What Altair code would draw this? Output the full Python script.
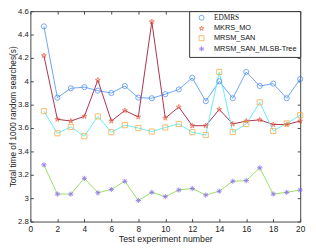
import altair as alt
import pandas as pd

experiments = list(range(1, 21))
methods = ["EDMRS", "MKRS_MO", "MRSM_SAN", "MRSM_SAN_MLSB-Tree"]
edmrs = [4.47, 3.86, 3.94, 3.95, 3.92, 3.90, 3.96, 3.86, 3.855, 3.89,
         3.93, 4.03, 3.83, 4.00, 3.855, 4.08, 3.96, 3.98, 3.855, 4.02]
mkrs_mo = [4.22, 3.675, 3.66, 3.70, 4.01, 3.66, 3.75, 3.695, 4.51, 3.685,
           3.78, 3.62, 3.62, 3.76, 3.635, 3.66, 3.67, 3.63, 3.63, 3.66]
mrsm_san = [3.745, 3.555, 3.61, 3.53, 3.70, 3.565, 3.625, 3.60, 3.57, 3.605,
            3.635, 3.565, 3.54, 4.08, 3.565, 3.635, 3.82, 3.575, 3.64, 3.71]
mlsb_tree = [3.285, 3.035, 3.035, 3.17, 3.046, 3.075, 3.145, 2.98, 3.05, 3.013,
             3.07, 3.083, 3.027, 3.06, 3.145, 3.15, 3.26, 3.035, 3.05, 3.07]

x_ticks = list(range(0, 21, 2))
y_ticks = [2.8, 3.0, 3.2, 3.4, 3.6, 3.8, 4.0, 4.2, 4.4, 4.6]

line_colors = ["#6aa6f5", "#a8304e", "#66eef2", "#98e060"]
marker_colors = ["#3f7fef", "#e8502e", "#f2a22c", "#7a52f2"]
STAR = ("M0,-1L0.2245,-0.309L0.951,-0.309L0.363,0.118L0.588,0.809L0,0.382"
        "L-0.588,0.809L-0.363,0.118L-0.951,-0.309L-0.2245,-0.309Z")
ASTER = "M-1,0L1,0M0,-1L0,1M-0.7,-0.7L0.7,0.7M-0.7,0.7L0.7,-0.7"
shapes = ["circle", STAR, "square", ASTER]

rows = []
for m, vals in zip(methods, [edmrs, mkrs_mo, mrsm_san, mlsb_tree]):
    for e, v in zip(experiments, vals):
        rows.append({"exp": e, "time": v, "method": m})
df = pd.DataFrame(rows)

FONT = "Liberation Sans"
xs = alt.Scale(domain=[0, 20], nice=False, zero=False)
ys = alt.Scale(domain=[2.8, 4.6], nice=False, zero=False)

x_axis = alt.Axis(values=x_ticks, title="Test experiment number", domain=False,
                  grid=False, tickSize=3, offset=-3, labelPadding=3,
                  titlePadding=2, labelFontSize=8.5, titleFontSize=9,
                  titleFontWeight="normal", labelFlush=False)
y_axis = alt.Axis(values=y_ticks, title="Total time of 1000 random searches(s)",
                  domain=False, grid=False, tickSize=3, offset=-3,
                  labelPadding=2, titlePadding=0, labelFontSize=8,
                  titleFontSize=8.5, titleFontWeight="normal", format=".2~f",
                  labelFlush=False)

leg = alt.Legend(title=None, orient="top-right", offset=0, padding=3,
                 fillColor="white", strokeColor="#333333", labelFontSize=7.5,
                 labelFont={"expr": "datum.label == 'EDMRS' ? 'Liberation Serif' : 'Liberation Sans'"},
                 symbolSize=26, symbolStrokeWidth=1, symbolOffset=6,
                 labelOffset=9, rowPadding=1, labelColor="#111111")

X = alt.X("exp:Q", scale=xs, axis=x_axis)
Y = alt.Y("time:Q", scale=ys, axis=y_axis)

line_layers = [
    alt.Chart(df).transform_filter(alt.datum.method == m)
    .mark_line(strokeWidth=1, color=c).encode(x=X, y=Y)
    for m, c in zip(methods, line_colors)
]
points = alt.Chart(df).mark_point(filled=False, strokeWidth=1, size=28).encode(
    x=X, y=Y,
    color=alt.Color("method:N", scale=alt.Scale(domain=methods, range=marker_colors), legend=leg),
    shape=alt.Shape("method:N", scale=alt.Scale(domain=methods, range=shapes), legend=leg),
)
main = alt.layer(*line_layers, points)

frame = alt.Chart(df).mark_point(opacity=0).encode(
    x=alt.X("exp:Q", scale=xs, axis=alt.Axis(orient="top", values=x_ticks, labels=False,
                                             domain=False, grid=False, tickSize=3,
                                             offset=-3, title=None)),
    y=alt.Y("time:Q", scale=ys, axis=alt.Axis(orient="right", values=y_ticks, labels=False,
                                              domain=False, grid=False, tickSize=3,
                                              offset=-3, title=None)),
)

chart = alt.layer(main, frame).resolve_scale(x="independent", y="independent").properties(
    width=277, height=216,
    padding={"left": 23, "top": 0, "right": 8, "bottom": 28},
    autosize=alt.AutoSizeParams(type="none"),
).configure_view(stroke="#444444", strokeWidth=1).configure_axis(
    labelFont=FONT, titleFont=FONT, labelColor="#222222", titleColor="#222222",
    tickColor="#444444", tickWidth=1,
).configure_legend(labelFont=FONT)

chart.save("out.html", embed_options={"renderer": "svg", "actions": False})
